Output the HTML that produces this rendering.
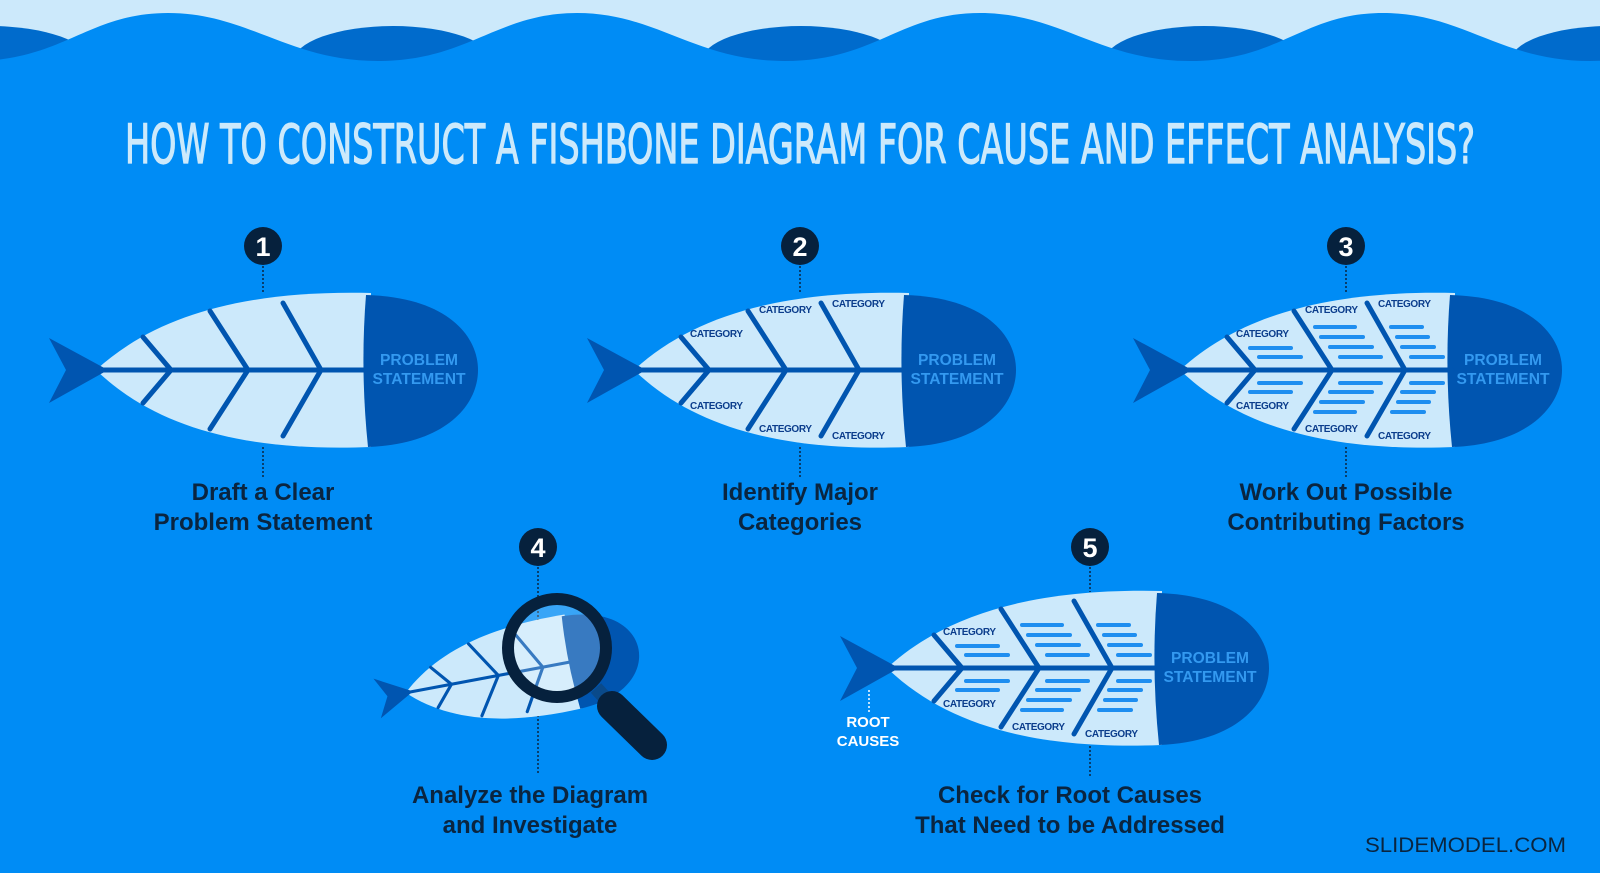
<!DOCTYPE html>
<html><head><meta charset="utf-8"><style>
html,body{margin:0;padding:0;background:#008cf5;}
svg{display:block;}
.cap{font-family:"Liberation Sans",sans-serif;font-weight:bold;font-size:24px;fill:#0a2540;text-anchor:middle;}
.cat{font-family:"Liberation Sans",sans-serif;font-weight:bold;font-size:10px;fill:#0b3d8c;}
.ps{font-family:"Liberation Sans Narrow","Liberation Sans",sans-serif;font-weight:bold;font-size:16px;fill:#3399f0;text-anchor:middle;}
.num{font-family:"Liberation Sans",sans-serif;font-weight:bold;font-size:27px;fill:#fff;text-anchor:middle;}
</style></head><body>
<svg width="1600" height="873" viewBox="0 0 1600 873" xmlns="http://www.w3.org/2000/svg">
<defs>
  <g id="fish">
    <path d="M1180,370 C1240,315 1330,290 1455,293 L1455,447 C1330,452 1240,428 1180,370 Z" fill="#cce9fb"/>
    <path d="M1450,295 C1530,297 1562,335 1562,370 C1562,405 1530,444 1452,447 Q1444,370 1450,295 Z" fill="#0055b0"/>
    <polygon points="1133,338 1192,370 1133,403 1150,370" fill="#0055b0"/>
    <g stroke="#0055b0" stroke-width="5" stroke-linecap="round" fill="none">
      <line x1="1185" y1="370" x2="1452" y2="370"/>
      <polyline points="1227,337 1255,370 1227,403"/>
      <polyline points="1294,311 1332,370 1294,429"/>
      <polyline points="1367,303 1405,370 1367,436"/>
    </g>
  </g>
  <g id="bars" stroke="#1e8ef0" stroke-width="4" stroke-linecap="round">
    <line x1="1250" y1="348" x2="1291" y2="348"/><line x1="1259" y1="357" x2="1301" y2="357"/>
    <line x1="1315" y1="327" x2="1355" y2="327"/><line x1="1321" y1="337" x2="1363" y2="337"/>
    <line x1="1330" y1="347" x2="1372" y2="347"/><line x1="1340" y1="357" x2="1381" y2="357"/>
    <line x1="1391" y1="327" x2="1422" y2="327"/><line x1="1397" y1="337" x2="1428" y2="337"/>
    <line x1="1402" y1="347" x2="1434" y2="347"/><line x1="1411" y1="357" x2="1443" y2="357"/>
    <line x1="1259" y1="383" x2="1301" y2="383"/><line x1="1250" y1="392" x2="1291" y2="392"/>
    <line x1="1340" y1="383" x2="1381" y2="383"/><line x1="1330" y1="392" x2="1372" y2="392"/>
    <line x1="1321" y1="402" x2="1363" y2="402"/><line x1="1315" y1="412" x2="1355" y2="412"/>
    <line x1="1411" y1="383" x2="1443" y2="383"/><line x1="1402" y1="392" x2="1434" y2="392"/>
    <line x1="1398" y1="402" x2="1429" y2="402"/><line x1="1392" y1="412" x2="1424" y2="412"/>
  </g>
</defs>

<!-- waves -->
<rect x="0" y="0" width="1600" height="75" fill="#cce9fb"/>
<g fill="#006bcc">
  <ellipse cx="-10" cy="62" rx="100" ry="36"/>
  <ellipse cx="393" cy="62" rx="100" ry="36"/>
  <ellipse cx="801" cy="62" rx="100" ry="36"/>
  <ellipse cx="1204" cy="62" rx="100" ry="36"/>
  <ellipse cx="1610" cy="62" rx="100" ry="36"/>
</g>
<path fill="#008cf5" d="M-237,13 C-157,13 -117,61 -27,61 C63,61 88,13 168,13 C248,13 288,61 378,61 C468,61 497,13 577,13 C657,13 695,61 785,61 C875,61 900,13 980,13 C1060,13 1100,61 1190,61 C1280,61 1303,13 1383,13 C1463,13 1500,61 1590,61 C1680,61 1710,13 1790,13 L1790,140 L-237,140 Z"/>

<!-- title -->
<text x="125" y="163" textLength="1350" lengthAdjust="spacingAndGlyphs" font-family="'Liberation Sans Narrow','DejaVu Sans Condensed','Liberation Sans',sans-serif" font-size="54" fill="#cce9fb" stroke="#cce9fb" stroke-width="1.2">HOW TO CONSTRUCT A FISHBONE DIAGRAM FOR CAUSE AND EFFECT ANALYSIS?</text>

<!-- dotted connectors -->
<g stroke="#0a2540" stroke-width="1.5" stroke-dasharray="2,2">
  <line x1="263" y1="262" x2="263" y2="293"/><line x1="263" y1="447" x2="263" y2="478"/>
  <line x1="800" y1="262" x2="800" y2="293"/><line x1="800" y1="447" x2="800" y2="478"/>
  <line x1="1346" y1="262" x2="1346" y2="293"/><line x1="1346" y1="447" x2="1346" y2="478"/>
  <line x1="538" y1="563" x2="538" y2="775"/>
  <line x1="1090" y1="563" x2="1090" y2="592"/><line x1="1090" y1="746" x2="1090" y2="778"/>
</g>

<!-- fish 1 -->
<use href="#fish" transform="translate(-1084,0)"/>
<text class="ps" x="419" y="365" textLength="78" lengthAdjust="spacingAndGlyphs">PROBLEM</text>
<text class="ps" x="419" y="384" textLength="93" lengthAdjust="spacingAndGlyphs">STATEMENT</text>

<!-- fish 2 -->
<use href="#fish" transform="translate(-546,0)"/>
<text class="ps" x="957" y="365" textLength="78" lengthAdjust="spacingAndGlyphs">PROBLEM</text>
<text class="ps" x="957" y="384" textLength="93" lengthAdjust="spacingAndGlyphs">STATEMENT</text>
<g class="cat">
  <text x="690" y="337" textLength="53">CATEGORY</text>
  <text x="759" y="313" textLength="53">CATEGORY</text>
  <text x="832" y="307" textLength="53">CATEGORY</text>
  <text x="690" y="409" textLength="53">CATEGORY</text>
  <text x="759" y="432" textLength="53">CATEGORY</text>
  <text x="832" y="439" textLength="53">CATEGORY</text>
</g>

<!-- fish 3 -->
<use href="#fish"/>
<use href="#bars"/>
<text class="ps" x="1503" y="365" textLength="78" lengthAdjust="spacingAndGlyphs">PROBLEM</text>
<text class="ps" x="1503" y="384" textLength="93" lengthAdjust="spacingAndGlyphs">STATEMENT</text>
<g class="cat">
  <text x="1236" y="337" textLength="53">CATEGORY</text>
  <text x="1305" y="313" textLength="53">CATEGORY</text>
  <text x="1378" y="307" textLength="53">CATEGORY</text>
  <text x="1236" y="409" textLength="53">CATEGORY</text>
  <text x="1305" y="432" textLength="53">CATEGORY</text>
  <text x="1378" y="439" textLength="53">CATEGORY</text>
</g>

<!-- fish 5 -->
<g transform="translate(-293,298)">
  <use href="#fish"/>
  <use href="#bars"/>
  <text class="ps" x="1503" y="365" textLength="78" lengthAdjust="spacingAndGlyphs">PROBLEM</text>
  <text class="ps" x="1503" y="384" textLength="93" lengthAdjust="spacingAndGlyphs">STATEMENT</text>
  <g class="cat">
    <text x="1236" y="337" textLength="53">CATEGORY</text>
    <text x="1236" y="409" textLength="53">CATEGORY</text>
    <text x="1305" y="432" textLength="53">CATEGORY</text>
    <text x="1378" y="439" textLength="53">CATEGORY</text>
  </g>
</g>
<line x1="869" y1="690" x2="869" y2="712" stroke="#fff" stroke-width="1.5" stroke-dasharray="2,2"/>
<g font-family="'Liberation Sans',sans-serif" font-weight="bold" font-size="15" fill="#fff" text-anchor="middle">
  <text x="868" y="727">ROOT</text><text x="868" y="746">CAUSES</text>
</g>

<!-- fish 4 with magnifier -->
<use href="#fish" transform="translate(410,692) rotate(-10.6) scale(0.62) translate(-1187,-370)"/>
<circle cx="557" cy="648" r="49" fill="#ffffff" fill-opacity="0.22"/>
<line x1="596" y1="688" x2="606" y2="699" stroke="#0a4a8a" stroke-width="14"/>
<line x1="612" y1="706" x2="652" y2="745" stroke="#06213d" stroke-width="30" stroke-linecap="round"/>
<circle cx="557" cy="648" r="49" fill="none" stroke="#06213d" stroke-width="12"/>

<!-- number badges -->
<g fill="#06213d">
  <circle cx="263" cy="246" r="19"/><circle cx="800" cy="246" r="19"/><circle cx="1346" cy="246" r="19"/>
  <circle cx="538" cy="547" r="19"/><circle cx="1090" cy="547" r="19"/>
</g>
<text class="num" x="263" y="256">1</text>
<text class="num" x="800" y="256">2</text>
<text class="num" x="1346" y="256">3</text>
<text class="num" x="538" y="557">4</text>
<text class="num" x="1090" y="557">5</text>

<!-- captions -->
<text class="cap" x="263" y="500">Draft a Clear</text>
<text class="cap" x="263" y="530">Problem Statement</text>
<text class="cap" x="800" y="500">Identify Major</text>
<text class="cap" x="800" y="530">Categories</text>
<text class="cap" x="1346" y="500">Work Out Possible</text>
<text class="cap" x="1346" y="530">Contributing Factors</text>
<text class="cap" x="530" y="803">Analyze the Diagram</text>
<text class="cap" x="530" y="833">and Investigate</text>
<text class="cap" x="1070" y="803">Check for Root Causes</text>
<text class="cap" x="1070" y="833">That Need to be Addressed</text>

<text x="1365" y="852" textLength="201" lengthAdjust="spacingAndGlyphs" font-family="'Liberation Sans',sans-serif" font-size="21" fill="#0a2540">SLIDEMODEL.COM</text>
</svg>
</body></html>
